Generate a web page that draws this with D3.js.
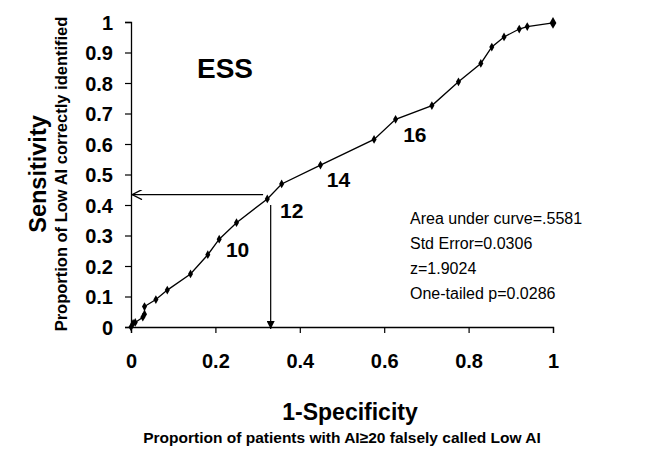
<!DOCTYPE html>
<html>
<head>
<meta charset="utf-8">
<script src="https://cdn.jsdelivr.net/npm/d3@7"></script>
<style>
  body { margin: 0; background: #fff; }
  svg { font-family: "Liberation Sans", Arial, sans-serif; }
</style>
</head>
<body>
<div id="chart"></div>
<script>
// ROC points (1-specificity, sensitivity)
var fpr  = [0, 0.005, 0.01, 0.028, 0.032, 0.032, 0.059, 0.086, 0.141, 0.182, 0.209, 0.25, 0.323, 0.357, 0.449, 0.576, 0.627, 0.713, 0.776, 0.829, 0.855, 0.884, 0.92, 0.939, 1.0];
var sens = [0, 0.012, 0.015, 0.032, 0.042, 0.067, 0.09, 0.121, 0.174, 0.237, 0.288, 0.342, 0.42, 0.469, 0.531, 0.615, 0.681, 0.726, 0.804, 0.864, 0.918, 0.951, 0.977, 0.985, 0.997];

var xTicks = [0, 0.2, 0.4, 0.6, 0.8, 1];
var yTicks = [0, 0.1, 0.2, 0.3, 0.4, 0.5, 0.6, 0.7, 0.8, 0.9, 1];

// cut-off labels placed next to the curve (left edge, baseline)
var cutLabels = ['10', '12', '14', '16'];
var cutX = [0.225, 0.353, 0.464, 0.645];
var cutY = [0.23, 0.357, 0.459, 0.607];

var statLines = ['Area under curve=.5581', 'Std Error=0.0306', 'z=1.9024', 'One-tailed p=0.0286'];

// the 12-point cut-off with its arrows
var cutFpr = 0.331, cutSens = 0.434;

var w = 645, h = 451;
var svg = d3.select('#chart').append('svg')
    .attr('width', w)
    .attr('height', h);

var x = d3.scaleLinear().domain([0, 1]).range([131, 553]);
var y = d3.scaleLinear().domain([0, 1]).range([327, 22]);

var fmt = function(d) { return d === 0 || d === 1 ? d : d.toFixed(1); };

// axes
var xAxis = svg.append('g')
    .attr('transform', 'translate(0,' + y(0) + ')')
    .call(d3.axisBottom(x).tickValues(xTicks).tickSize(6).tickPadding(15).tickFormat(fmt));
var yAxis = svg.append('g')
    .attr('transform', 'translate(' + x(0) + ',0)')
    .call(d3.axisLeft(y).tickValues(yTicks).tickSize(6).tickPadding(12).tickFormat(fmt));

svg.selectAll('.domain').attr('stroke', '#000').attr('stroke-width', 1.3);
svg.selectAll('.tick line').attr('stroke', '#000').attr('stroke-width', 1.2);
svg.selectAll('.tick text')
    .attr('fill', '#000')
    .style('font-size', '20px')
    .style('font-weight', 'bold')
    .style('font-family', '"Liberation Sans", Arial, sans-serif');
xAxis.selectAll('.tick text').attr('dy', '1em');
yAxis.selectAll('.tick text').attr('dy', '0.36em');

// axis titles
svg.append('text')
    .attr('transform', 'translate(46,174) rotate(-90)')
    .attr('text-anchor', 'middle')
    .style('font-size', '23.5px').style('font-weight', 'bold')
    .text('Sensitivity');
svg.append('text')
    .attr('transform', 'translate(67,174) rotate(-90)')
    .attr('text-anchor', 'middle')
    .style('font-size', '16.5px').style('font-weight', 'bold')
    .text('Proportion of Low AI correctly identified');
svg.append('text')
    .attr('x', 350).attr('y', 420)
    .attr('text-anchor', 'middle')
    .style('font-size', '23px').style('font-weight', 'bold')
    .text('1-Specificity');
svg.append('text')
    .attr('x', 342).attr('y', 443)
    .attr('text-anchor', 'middle')
    .style('font-size', '15.5px').style('font-weight', 'bold')
    .text('Proportion of patients with AI\u226520 falsely called Low AI');

// arrow markers
var defs = svg.append('defs');
defs.append('marker')
    .attr('id', 'openHead')
    .attr('viewBox', '0 0 10 10')
    .attr('refX', 10).attr('refY', 5)
    .attr('markerWidth', 12).attr('markerHeight', 10)
    .attr('markerUnits', 'userSpaceOnUse')
    .attr('orient', 'auto')
    .append('path')
    .attr('d', 'M0,0 L10,5 L0,10')
    .attr('fill', 'none').attr('stroke', '#000').attr('stroke-width', 1.3);
defs.append('marker')
    .attr('id', 'solidHead')
    .attr('viewBox', '0 0 10 10')
    .attr('refX', 10).attr('refY', 5)
    .attr('markerWidth', 8).attr('markerHeight', 8)
    .attr('markerUnits', 'userSpaceOnUse')
    .attr('orient', 'auto')
    .append('path')
    .attr('d', 'M0,0 L10,5 L0,10 Z')
    .attr('fill', '#000');

svg.append('line')
    .attr('x1', x(cutFpr - 0.018)).attr('y1', y(cutSens))
    .attr('x2', x(0) + 1).attr('y2', y(cutSens))
    .attr('stroke', '#000').attr('stroke-width', 1.2)
    .attr('marker-end', 'url(#openHead)');
svg.append('line')
    .attr('x1', x(cutFpr)).attr('y1', y(0.4))
    .attr('x2', x(cutFpr)).attr('y2', y(0) + 2)
    .attr('stroke', '#000').attr('stroke-width', 1.2)
    .attr('marker-end', 'url(#solidHead)');

// curve
var pts = fpr.map(function(d, i) { return [d, sens[i]]; });
svg.append('path')
    .datum(pts)
    .attr('fill', 'none')
    .attr('stroke', '#000')
    .attr('stroke-width', 1.3)
    .attr('d', d3.line().x(function(d) { return x(d[0]); }).y(function(d) { return y(d[1]); }));

svg.selectAll('.pt')
    .data(pts)
    .enter()
    .append('path')
    .attr('class', 'pt')
    .attr('transform', function(d) { return 'translate(' + x(d[0]) + ',' + y(d[1]) + ')'; })
    .attr('d', function(d, i) {
      return d3.symbol().type(d3.symbolDiamond).size(i === pts.length - 1 ? 40 : 22)();
    })
    .attr('fill', '#000');

// labels
svg.append('text')
    .attr('x', 197).attr('y', 78)
    .style('font-size', '28px').style('font-weight', 'bold')
    .text('ESS');

svg.selectAll('.cut')
    .data(cutLabels)
    .enter()
    .append('text')
    .attr('class', 'cut')
    .attr('x', function(d, i) { return x(cutX[i]); })
    .attr('y', function(d, i) { return y(cutY[i]); })
    .style('font-size', '21px').style('font-weight', 'bold')
    .text(function(d) { return d; });

svg.selectAll('.stat')
    .data(statLines)
    .enter()
    .append('text')
    .attr('class', 'stat')
    .attr('x', 410)
    .attr('y', function(d, i) { return 224 + i * 25; })
    .style('font-size', '16px')
    .text(function(d) { return d; });
</script>
</body>
</html>
